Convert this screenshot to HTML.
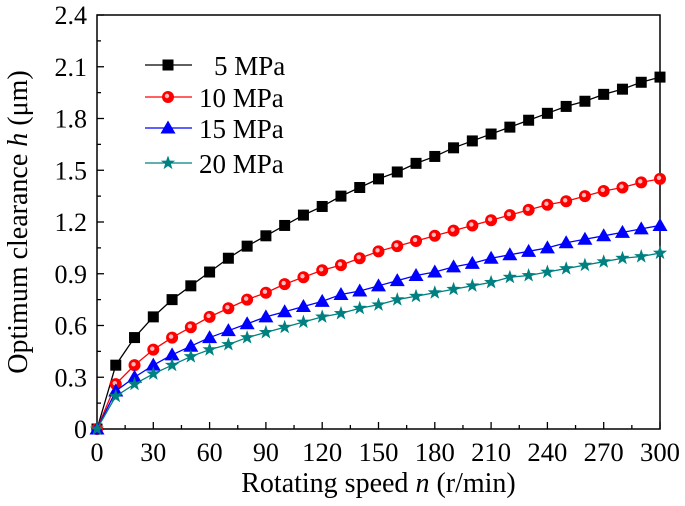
<!DOCTYPE html>
<html><head><meta charset="utf-8"><style>
html,body{margin:0;padding:0;background:#fff;}
svg text{font-family:"Liberation Serif",serif;fill:#000;}
</style></head><body>
<svg id="chart" width="685" height="501" xmlns="http://www.w3.org/2000/svg"></svg>
<script>
const categories=[0,10,20,30,40,50,60,70,80,90,100,110,120,130,140,150,160,170,180,190,200,210,220,230,240,250,260,270,280,290,300];
const s5=[0,0.37,0.53,0.65,0.75,0.83,0.91,0.99,1.06,1.12,1.18,1.24,1.29,1.35,1.40,1.45,1.49,1.54,1.58,1.63,1.67,1.71,1.75,1.79,1.83,1.87,1.90,1.94,1.97,2.01,2.04];
const s10=[0,0.26,0.37,0.46,0.53,0.59,0.65,0.70,0.75,0.79,0.84,0.88,0.92,0.95,0.99,1.03,1.06,1.09,1.12,1.15,1.18,1.21,1.24,1.27,1.30,1.32,1.35,1.38,1.40,1.43,1.45];
const s15=[0,0.22,0.30,0.37,0.43,0.48,0.53,0.57,0.61,0.65,0.68,0.71,0.74,0.78,0.80,0.83,0.86,0.89,0.91,0.94,0.96,0.99,1.01,1.03,1.05,1.08,1.10,1.12,1.14,1.16,1.18];
const s20=[0,0.19,0.26,0.32,0.37,0.42,0.46,0.49,0.53,0.56,0.59,0.62,0.65,0.67,0.70,0.72,0.75,0.77,0.79,0.81,0.83,0.85,0.88,0.89,0.91,0.93,0.95,0.97,0.99,1.00,1.02];
const xTicks=[0,30,60,90,120,150,180,210,240,270,300];
const yTicks=[0,0.3,0.6,0.9,1.2,1.5,1.8,2.1,2.4];
const yTickLabels=["0","0.3","0.6","0.9","1.2","1.5","1.8","2.1","2.4"];
const seriesNames=["5 MPa","10 MPa","15 MPa","20 MPa"];

const L=97,R=660,T=15,B=429;
const X=v=>L+(v-0)/(300-0)*(R-L);
const Y=v=>B-(v/2.4)*(B-T);
const svg=document.getElementById('chart');
const NS="http://www.w3.org/2000/svg";
function mk(tag,attrs,parent){const e=document.createElementNS(NS,tag);for(const k in attrs)e.setAttribute(k,attrs[k]);(parent||svg).appendChild(e);return e;}

const frame=mk('rect',{x:L,y:T,width:R-L,height:B-T,fill:'none',stroke:'#000','stroke-width':1.5});



for(let v=0;v<=300;v+=15){
  const major=v%30===0;const len=major?7:4;
  const t=mk('line',{x1:X(v),x2:X(v),y1:B,y2:B-len,stroke:'#000','stroke-width':1.3});
  
  
}
xTicks.forEach(v=>{
  const t=mk('text',{x:X(v),y:B+32,'text-anchor':'middle','font-size':26,'textLength':v>=100?40:(v>0?26:13),'lengthAdjust':'spacingAndGlyphs'});
  t.textContent=v;
  
  
});
for(let v=0;v<=2.4001;v+=0.15){
  const major=Math.round(v/0.15)%2===0;const len=major?7:4;
  const t=mk('line',{x1:L,x2:L+len,y1:Y(v),y2:Y(v),stroke:'#000','stroke-width':1.3});
  
  
}
yTicks.forEach((v,i)=>{
  const t=mk('text',{x:L-10,y:Y(v)+9,'text-anchor':'end','font-size':26});
  t.textContent=yTickLabels[i];
  
  
});

const xt=mk('text',{x:(L+R)/2,y:492,'text-anchor':'middle','font-size':28});
xt.innerHTML='Rotating speed <tspan font-style="italic">n</tspan> (r/min)';


const yt=mk('text',{x:0,y:0,'text-anchor':'middle','font-size':28,transform:`translate(27,${(T+B)/2}) rotate(-90)`});
yt.innerHTML='Optimum clearance <tspan font-style="italic">h</tspan> (μm)';



function marker(type,cx,cy,color,g){
  if(type==='square'){mk('rect',{x:cx-5.5,y:cy-5.5,width:11,height:11,fill:color},g);}
  else if(type==='circle'){mk('circle',{cx,cy,r:6,fill:color},g);mk('circle',{cx:cx-1,cy:cy-1,r:2.2,fill:'#fbb'},g);}
  else if(type==='tri'){mk('polygon',{points:`${cx},${cy-7.5} ${cx-7.5},${cy+5.5} ${cx+7.5},${cy+5.5}`,fill:color},g);}
  else {let p=[];for(let i=0;i<10;i++){const r=i%2?3:7.5;const a=-Math.PI/2+i*Math.PI/5;p.push((cx+r*Math.cos(a)).toFixed(1)+','+(cy+r*Math.sin(a)).toFixed(1));}
    mk('polygon',{points:p.join(' '),fill:color},g);}
}
const series=[[s5,'#000','square'],[s10,'#f00','circle'],[s15,'#00f','tri'],[s20,'#008080','star']];
const names=['series-5mpa','series-10mpa','series-15mpa','series-20mpa'];
series.forEach(([d,c,m],si)=>{
  const g=mk('g',{});
  
  
  mk('polyline',{points:d.map((v,i)=>X(categories[i])+','+Y(v)).join(' '),fill:'none',stroke:c,'stroke-width':1.3},g);
  d.forEach((v,i)=>marker(m,X(categories[i]),Y(v),c,g));
});
const ly=[65,97,128,163];
series.forEach(([d,c,m],si)=>{
  const g=mk('g',{});
  
  
  mk('line',{x1:145,x2:192,y1:ly[si],y2:ly[si],stroke:c,'stroke-width':1.3},g);
  marker(m,168,ly[si],c,g);
  const t=mk('text',{x:si===0?214:199,y:ly[si]+10,'font-size':27},g);
  t.textContent=seriesNames[si];
});
</script>
</body></html>
